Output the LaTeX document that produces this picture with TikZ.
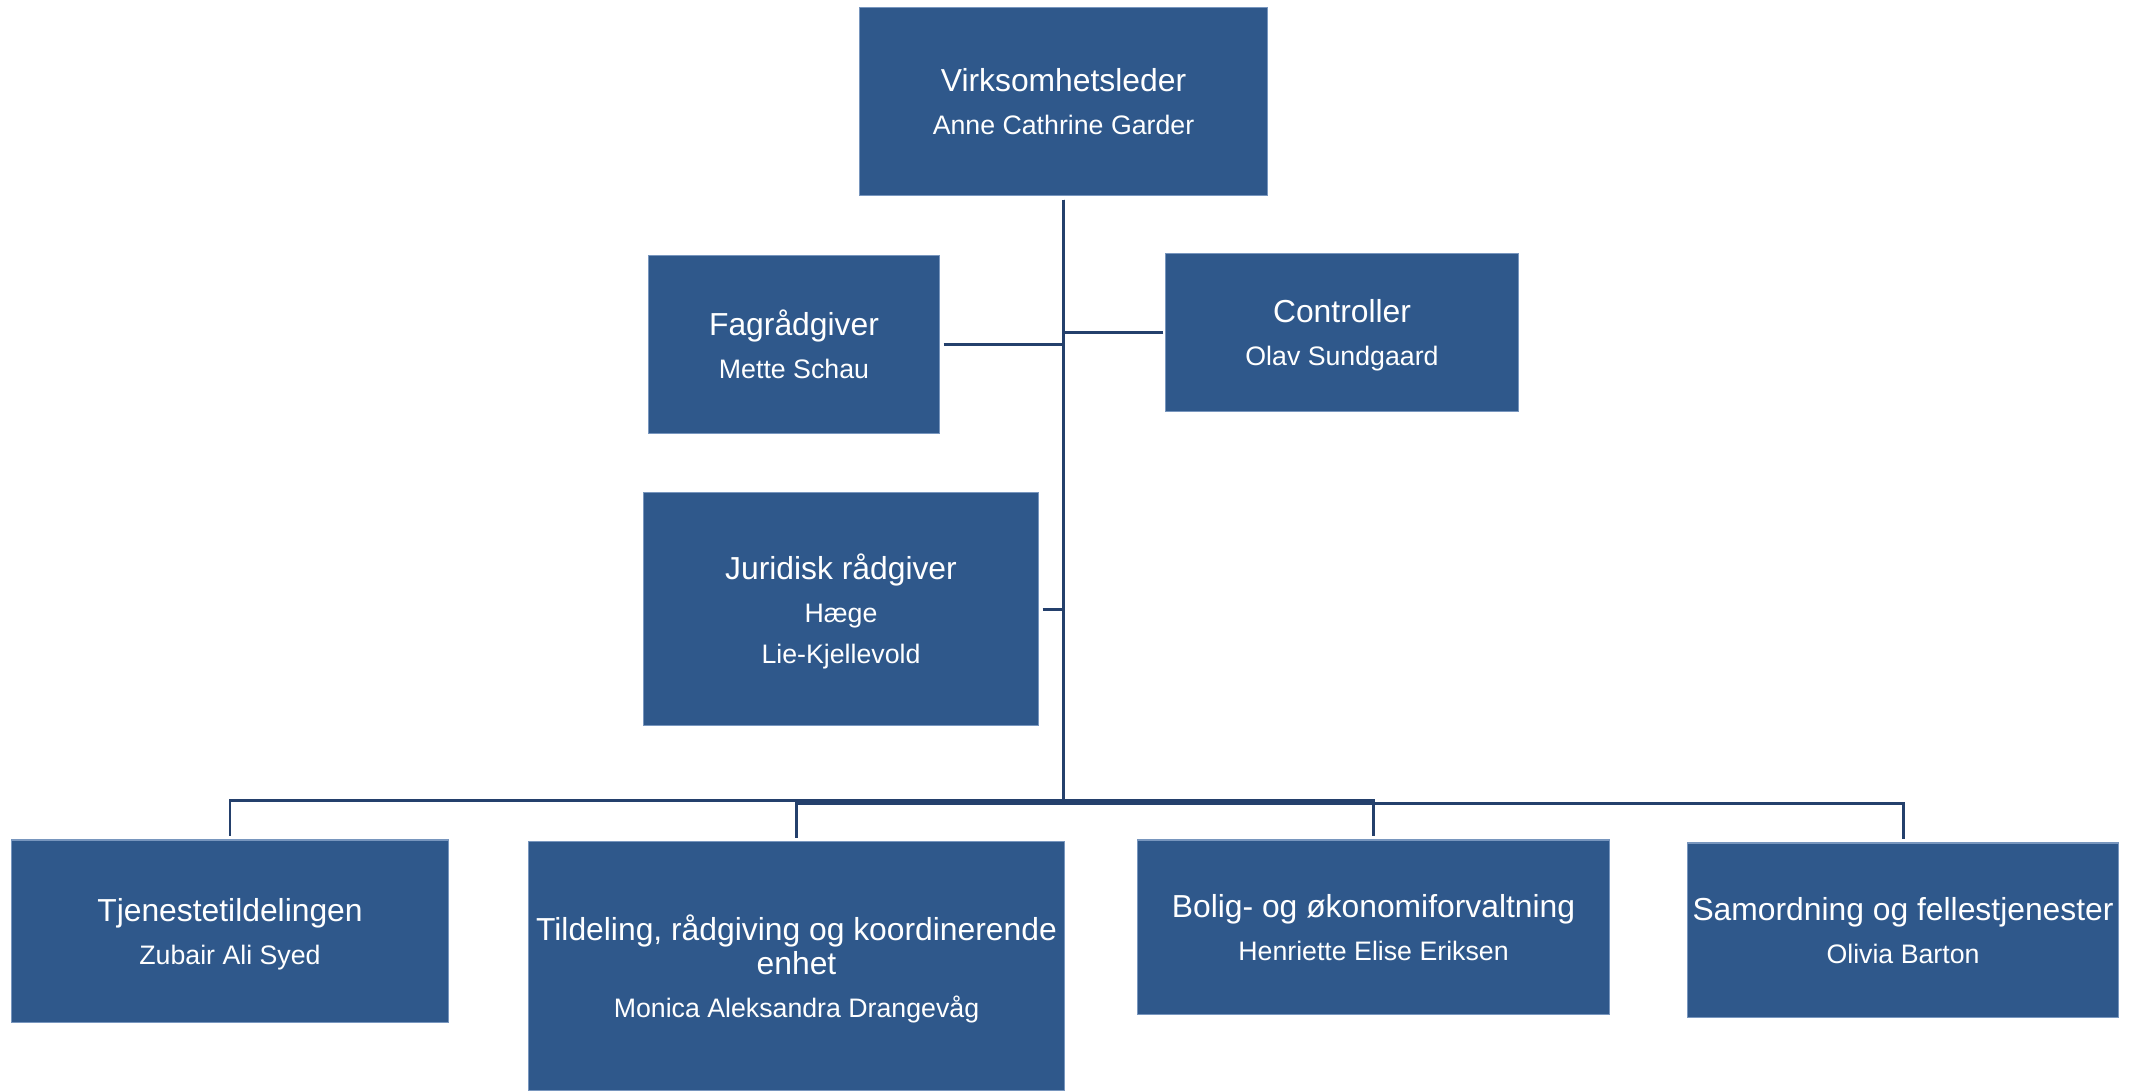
\documentclass[tikz,border=0pt]{standalone}
\usepackage{fontspec}
\setmainfont{Liberation Sans}
\definecolor{boxfill}{RGB}{47,88,139}
\definecolor{boxedge}{RGB}{120,150,190}
\definecolor{linec}{RGB}{36,64,108}
\newcommand{\ttl}{\fontsize{9.05}{12.2}\selectfont}
\newcommand{\nm}{\fontsize{7.6}{12.2}\selectfont}
\tikzset{
  orgbox/.style={rectangle, fill=boxfill, draw=boxedge, line width=0.3pt,
    inner sep=0pt, text=white, align=center, text depth=0pt,
    font=\fontsize{7.6}{12.2}\selectfont},
  conn/.style={draw=linec, line width=0.85pt}
}
\begin{document}
\begin{tikzpicture}[x=0.01cm, y=-0.01cm]
\useasboundingbox (0,0) rectangle (2134,1090);
% boxes
\node[orgbox, minimum width=4.07cm, minimum height=1.87cm] (top) at (1063.5,101.5)
  {\ttl Virksomhetsleder\\ \nm Anne Cathrine Garder};
\node[orgbox, minimum width=2.90cm, minimum height=1.77cm] (fag) at (794,344.5)
  {\ttl Fagrådgiver\\ \nm Mette Schau};
\node[orgbox, minimum width=3.52cm, minimum height=1.57cm] (ctrl) at (1342,332.5)
  {\ttl Controller\\ \nm Olav Sundgaard};
\node[orgbox, minimum width=3.94cm, minimum height=2.32cm] (jur) at (841,609)
  {\ttl Juridisk rådgiver\\ \nm Hæge\\[-0.5pt] \nm Lie-Kjellevold};
\node[orgbox, minimum width=4.36cm, minimum height=1.82cm] (tj) at (230,931)
  {\ttl Tjenestetildelingen\\ \nm Zubair Ali Syed};
\node[orgbox, minimum width=5.35cm, minimum height=2.48cm] (til) at (796.5,966)
  {\ttl Tildeling, rådgiving og koordinerende\\[-2.5pt] \ttl enhet\\ \nm Monica Aleksandra Drangevåg};
\node[orgbox, minimum width=4.71cm, minimum height=1.74cm] (bol) at (1373.5,927)
  {\ttl Bolig- og økonomiforvaltning\\ \nm Henriette Elise Eriksen};
\node[orgbox, minimum width=4.30cm, minimum height=1.74cm] (sam) at (1903,930)
  {\ttl Samordning og fellestjenester\\ \nm Olivia Barton};
% trunk start
\coordinate (tr) at ([yshift=-0.04cm]top.south);
% side connectors
\draw[conn] ([xshift=0.04cm]fag.east) -- (fag.east -| tr);
\draw[conn] ([xshift=-0.02cm]ctrl.west) -- (ctrl.west -| tr);
\draw[conn] ([xshift=0.04cm]jur.east) -- (jur.east -| tr);
% bottom connectors
\draw[conn] (tr) -- ++(0,601) -| ([yshift=0.03cm]tj.north);
\draw[conn] (tr) -- ++(0,604) -| ([yshift=0.03cm]til.north);
\draw[conn] (tr) -- ++(0,601) -| ([yshift=0.03cm]bol.north);
\draw[conn] (tr) -- ++(0,604) -| ([yshift=0.03cm]sam.north);
\end{tikzpicture}
\end{document}
